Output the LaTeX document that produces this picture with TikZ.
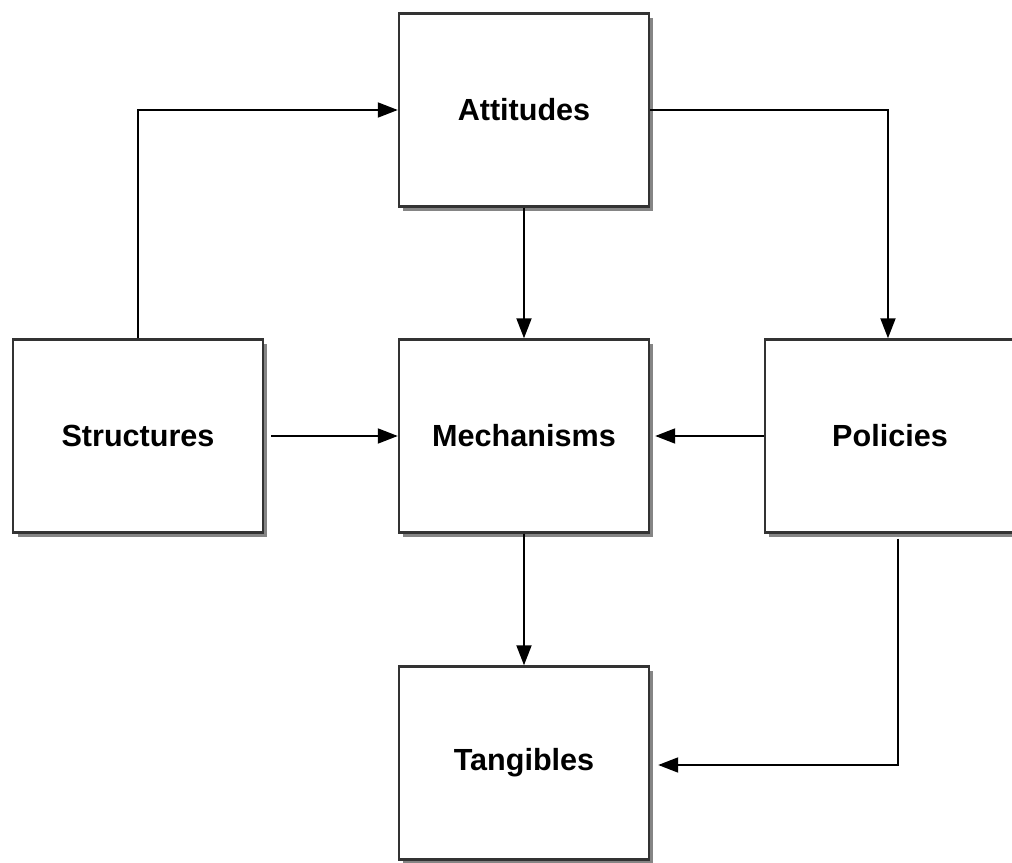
\documentclass[tikz,border=0pt]{standalone}
\usepackage{fontspec}
\setmainfont{Liberation Sans}
\usetikzlibrary{arrows.meta,positioning,shadows}

\begin{document}
\begin{tikzpicture}[
    block/.style={draw=black!80, line width=0.7pt, fill=white,
        minimum width=2.5cm, minimum height=1.93cm,
        font=\fontsize{8.7pt}{10pt}\selectfont\bfseries,
        drop shadow={shadow xshift=0.045cm, shadow yshift=-0.045cm, fill=black!60, opacity=0.8}},
    link/.style={line width=0.55pt, -{Triangle[length=0.2cm,width=0.15cm]}}
]
        % Frame of the picture
        \useasboundingbox (0,0) rectangle (10.12,-8.63);

        % Draw boxes
        \node[block] (attitudes) at (5.24,-1.10) {Attitudes};
        \node[block] (structures) at (1.38,-4.36) {Structures};
        \node[block] (mechanisms) at (5.24,-4.36) {Mechanisms};
        \node[block] (policies) at (8.90,-4.36) {Policies};
        \node[block] (tangibles) at (5.24,-7.63) {Tangibles};

        % Draw links
        \draw[link] (structures.north) |- (attitudes.west);
        \draw[link] (attitudes.east) -| ([xshift=-0.02cm]policies.north);
        \draw[link] (attitudes.south) -- (mechanisms.north);
        \draw[link] ([xshift=0.07cm]structures.east) -- (mechanisms.west);
        \draw[link] (policies.west) -- ([xshift=0.05cm]mechanisms.east);
        \draw[link] (mechanisms.south) -- (tangibles.north);
        \draw[link] ([xshift=0.08cm,yshift=-0.05cm]policies.south) |- ([xshift=0.08cm,yshift=-0.02cm]tangibles.east);
    \end{tikzpicture}
\end{document}
